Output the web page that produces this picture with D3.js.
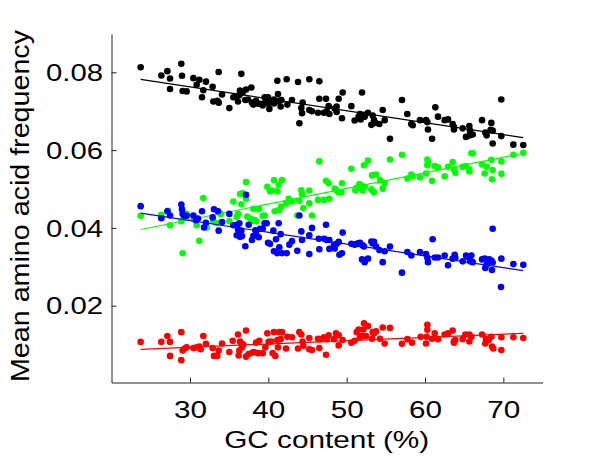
<!DOCTYPE html>
<html>
<head>
<meta charset="utf-8">
<script src="https://cdn.jsdelivr.net/npm/d3@7"></script>
<style>
  body { margin: 0; background: #fff; }
  text { font-family: "Liberation Sans", Arial, sans-serif; fill: #000; }
</style>
</head>
<body>
<div id="chart"></div>
<script>
// GC content (%) and mean frequency, one pair per genome
const blackPts = [
  [23.70,0.0813],[26.34,0.0792],[27.11,0.0803],[27.45,0.0784],[27.45,0.0757],[28.89,0.0822],[28.98,0.0791],
  [29.06,0.0752],[29.57,0.0751],[30.43,0.0785],[30.85,0.0768],[31.19,0.0781],[31.53,0.0736],[31.70,0.0754],
  [32.04,0.0776],[32.89,0.0763],[32.98,0.0725],[33.49,0.0727],[33.66,0.0801],[33.66,0.0722],[34.09,0.0743],
  [35.02,0.0708],[35.53,0.0736],[35.96,0.0739],[36.13,0.0725],[36.30,0.0741],[36.55,0.0796],[36.38,0.0753],
  [36.72,0.0748],[37.15,0.0756],[37.06,0.0729],[37.40,0.0730],[37.83,0.0761],[37.91,0.0722],[38.08,0.0717],
  [38.42,0.0727],[38.68,0.0719],[39.02,0.0719],[39.28,0.0715],[39.53,0.0736],[39.70,0.0727],[39.96,0.0736],
  [39.96,0.0720],[40.13,0.0706],[40.47,0.0725],[40.72,0.0730],[40.72,0.0720],[40.98,0.0725],[41.15,0.0778],
  [41.23,0.0744],[41.40,0.0727],[41.66,0.0729],[41.57,0.0712],[42.34,0.0782],[42.43,0.0717],[43.02,0.0729],
  [43.79,0.0775],[43.96,0.0669],[44.21,0.0708],[44.30,0.0695],[44.38,0.0722],[45.23,0.0782],[45.23,0.0703],
  [45.57,0.0700],[46.34,0.0696],[46.51,0.0777],[46.51,0.0732],[47.11,0.0696],[47.36,0.0732],[47.45,0.0700],
  [47.70,0.0713],[47.79,0.0693],[48.47,0.0707],[48.72,0.0712],[48.72,0.0698],[48.98,0.0732],[49.49,0.0748],
  [49.40,0.0682],[50.60,0.0713],[51.02,0.0676],[51.53,0.0686],[51.70,0.0693],[51.79,0.0679],[51.96,0.0748],
  [52.13,0.0691],[52.30,0.0686],[52.72,0.0696],[53.15,0.0665],[53.32,0.0689],[53.49,0.0677],[53.66,0.0670],
  [54.17,0.0667],[54.60,0.0703],[54.85,0.0677],[55.53,0.0629],[57.06,0.0729],[57.74,0.0693],[58.25,0.0667],
  [58.43,0.0664],[59.36,0.0677],[60.13,0.0677],[60.30,0.0672],[60.38,0.0653],[60.90,0.0629],[61.32,0.0710],
  [61.66,0.0686],[62.51,0.0677],[62.94,0.0679],[63.53,0.0667],[63.70,0.0659],[63.70,0.0653],[64.81,0.0656],
  [65.23,0.0634],[65.66,0.0662],[65.74,0.0650],[65.74,0.0638],[66.09,0.0640],[67.28,0.0677],[67.70,0.0645],
  [67.87,0.0638],[68.47,0.0670],[68.38,0.0652],[68.64,0.0650],[68.64,0.0617],[69.74,0.0730],[69.74,0.0636],
  [71.28,0.0614],[72.55,0.0613]
];
const greenPts = [
  [23.70,0.0431],[26.34,0.0434],[27.19,0.0444],[27.45,0.0407],[28.89,0.0417],[29.06,0.0335],[29.57,0.0436],
  [30.51,0.0422],[30.85,0.0407],[31.19,0.0367],[31.70,0.0477],[32.13,0.0401],[32.98,0.0417],[33.40,0.0412],
  [33.91,0.0436],[35.02,0.0417],[35.53,0.0468],[35.96,0.0429],[36.13,0.0436],[36.38,0.0487],[36.72,0.0489],
  [36.55,0.0461],[37.15,0.0518],[37.15,0.0475],[37.32,0.0429],[37.66,0.0425],[37.92,0.0417],[38.09,0.0449],
  [38.26,0.0420],[38.43,0.0417],[38.60,0.0448],[38.85,0.0449],[39.28,0.0431],[39.53,0.0432],[39.87,0.0506],
  [40.21,0.0494],[40.47,0.0496],[40.72,0.0523],[40.81,0.0443],[41.15,0.0494],[41.32,0.0511],[41.40,0.0446],
  [41.74,0.0523],[41.66,0.0455],[42.26,0.0463],[42.60,0.0475],[43.02,0.0468],[43.70,0.0432],[43.96,0.0470],
  [44.21,0.0497],[44.30,0.0487],[44.47,0.0451],[45.23,0.0496],[45.23,0.0463],[45.57,0.0432],[46.51,0.0571],
  [46.34,0.0472],[47.11,0.0472],[47.36,0.0521],[47.70,0.0515],[47.79,0.0475],[48.47,0.0501],[48.72,0.0496],
  [48.98,0.0491],[49.40,0.0515],[49.32,0.0492],[50.60,0.0552],[51.11,0.0497],[51.28,0.0503],[51.62,0.0513],
  [51.70,0.0503],[51.87,0.0509],[52.04,0.0497],[52.21,0.0561],[52.30,0.0506],[52.72,0.0573],[53.15,0.0499],
  [53.24,0.0535],[53.32,0.0496],[53.49,0.0492],[53.75,0.0537],[54.26,0.0523],[54.60,0.0501],[54.85,0.0515],
  [55.53,0.0576],[57.06,0.0588],[57.75,0.0527],[58.26,0.0537],[58.43,0.0533],[59.36,0.0530],[60.13,0.0540],
  [60.30,0.0561],[60.30,0.0576],[60.38,0.0568],[60.89,0.0521],[61.24,0.0559],[61.66,0.0556],[62.51,0.0533],
  [62.94,0.0557],[63.53,0.0569],[63.70,0.0550],[63.87,0.0542],[64.81,0.0557],[65.24,0.0559],[65.66,0.0550],
  [65.66,0.0545],[65.92,0.0592],[66.09,0.0592],[67.28,0.0563],[67.62,0.0540],[67.87,0.0557],[68.47,0.0575],
  [68.55,0.0525],[68.64,0.0549],[69.75,0.0539],[69.75,0.0571],[71.28,0.0588],[72.55,0.0593]
];
const bluePts = [
  [23.70,0.0456],[26.34,0.0425],[27.11,0.0443],[27.45,0.0432],[28.89,0.0460],[28.98,0.0448],[29.06,0.0436],
  [29.23,0.0431],[29.57,0.0431],[30.43,0.0432],[30.77,0.0420],[31.02,0.0424],[31.53,0.0443],[31.79,0.0401],
  [32.04,0.0413],[32.89,0.0427],[33.06,0.0448],[33.57,0.0443],[33.66,0.0393],[34.09,0.0415],[35.02,0.0436],
  [35.53,0.0407],[35.96,0.0381],[36.04,0.0408],[36.13,0.0396],[36.38,0.0377],[36.30,0.0412],[36.55,0.0393],
  [36.64,0.0379],[37.15,0.0485],[37.06,0.0353],[37.49,0.0408],[37.91,0.0369],[38.09,0.0379],[38.34,0.0394],
  [38.43,0.0384],[38.77,0.0376],[38.94,0.0398],[39.28,0.0398],[39.53,0.0412],[39.79,0.0412],[39.96,0.0362],
  [40.21,0.0359],[40.64,0.0393],[40.72,0.0340],[40.98,0.0371],[41.15,0.0335],[41.32,0.0412],[41.40,0.0350],
  [41.57,0.0384],[41.74,0.0335],[42.34,0.0335],[42.68,0.0357],[43.02,0.0366],[43.70,0.0341],[43.96,0.0432],
  [44.21,0.0391],[44.30,0.0369],[45.23,0.0333],[45.23,0.0381],[45.57,0.0400],[46.43,0.0372],[46.51,0.0345],
  [47.11,0.0372],[47.45,0.0369],[47.79,0.0369],[47.79,0.0346],[47.36,0.0408],[48.38,0.0355],[48.47,0.0347],
  [48.72,0.0359],[48.98,0.0364],[49.07,0.0331],[49.49,0.0388],[49.40,0.0335],[50.60,0.0359],[51.02,0.0357],
  [51.36,0.0360],[51.53,0.0359],[51.70,0.0362],[51.96,0.0319],[52.04,0.0355],[52.21,0.0352],[52.30,0.0312],
  [52.72,0.0321],[53.15,0.0365],[53.32,0.0360],[53.49,0.0364],[53.75,0.0352],[54.17,0.0343],[54.60,0.0312],
  [54.85,0.0340],[55.53,0.0352],[57.06,0.0285],[57.75,0.0338],[58.26,0.0329],[59.36,0.0338],[60.13,0.0333],
  [60.30,0.0323],[60.38,0.0312],[60.98,0.0371],[61.24,0.0324],[61.66,0.0324],[62.51,0.0329],[62.94,0.0304],
  [63.53,0.0321],[63.79,0.0331],[63.87,0.0323],[64.81,0.0314],[65.24,0.0329],[65.41,0.0326],[65.66,0.0324],
  [65.75,0.0314],[65.92,0.0329],[66.09,0.0312],[67.28,0.0319],[67.62,0.0321],[67.70,0.0297],[67.87,0.0305],
  [68.21,0.0319],[68.47,0.0316],[68.64,0.0398],[68.55,0.0292],[68.64,0.0311],[69.75,0.0321],[69.70,0.0248],
  [71.28,0.0307],[72.55,0.0305]
];
const redPts = [
  [23.70,0.0107],[26.34,0.0107],[27.11,0.0122],[27.45,0.0107],[27.45,0.0071],[28.89,0.0132],[28.89,0.0060],
  [29.06,0.0085],[29.32,0.0090],[29.57,0.0093],[30.43,0.0091],[30.85,0.0093],[31.19,0.0095],[31.70,0.0122],
  [31.36,0.0088],[32.04,0.0102],[32.89,0.0091],[33.06,0.0071],[33.49,0.0071],[33.66,0.0085],[34.09,0.0103],
  [35.02,0.0081],[35.45,0.0110],[36.13,0.0126],[36.21,0.0072],[36.30,0.0085],[36.38,0.0108],[36.55,0.0103],
  [36.64,0.0093],[36.81,0.0100],[37.15,0.0136],[37.15,0.0069],[37.49,0.0076],[37.91,0.0079],[38.17,0.0081],
  [38.43,0.0105],[38.68,0.0078],[38.85,0.0110],[39.28,0.0078],[39.62,0.0093],[39.87,0.0129],[40.04,0.0107],
  [40.38,0.0108],[40.55,0.0078],[40.72,0.0132],[40.89,0.0071],[41.15,0.0112],[41.23,0.0093],[41.40,0.0132],
  [41.57,0.0114],[41.74,0.0132],[42.26,0.0090],[42.43,0.0120],[43.02,0.0119],[43.79,0.0090],[43.96,0.0132],
  [44.21,0.0126],[44.38,0.0108],[44.47,0.0097],[45.23,0.0117],[45.23,0.0088],[45.57,0.0086],[46.34,0.0115],
  [46.51,0.0091],[46.60,0.0114],[47.11,0.0119],[47.45,0.0114],[47.70,0.0124],[47.36,0.0074],[48.38,0.0114],
  [48.64,0.0129],[48.98,0.0124],[48.98,0.0098],[49.49,0.0112],[50.60,0.0105],[51.02,0.0110],[51.28,0.0132],
  [51.53,0.0139],[51.70,0.0119],[51.96,0.0122],[52.13,0.0139],[52.21,0.0155],[52.47,0.0122],[52.72,0.0148],
  [53.24,0.0115],[53.32,0.0132],[53.49,0.0129],[53.75,0.0134],[54.26,0.0115],[54.60,0.0144],[54.85,0.0103],
  [55.53,0.0143],[57.06,0.0102],[57.75,0.0114],[58.34,0.0105],[59.45,0.0120],[60.13,0.0103],[60.21,0.0120],
  [60.30,0.0151],[60.30,0.0138],[60.89,0.0115],[61.24,0.0129],[61.66,0.0114],[62.51,0.0126],[62.94,0.0129],
  [63.53,0.0136],[63.70,0.0108],[63.70,0.0105],[63.87,0.0112],[64.81,0.0114],[65.15,0.0126],[65.66,0.0126],
  [65.66,0.0108],[65.92,0.0120],[67.28,0.0126],[67.70,0.0103],[67.79,0.0114],[68.13,0.0112],[68.47,0.0120],
  [68.55,0.0095],[68.72,0.0090],[69.75,0.0119],[69.75,0.0086],[71.28,0.0119],[72.55,0.0117]
];

// fitted lines, end points
const blackFit = [[23.7, 0.0782], [72.55, 0.0632]];
const greenFit = [[23.7, 0.0396], [72.55, 0.0592]];
const blueFit = [[23.7, 0.0438], [72.55, 0.0290]];
const redFit = [[23.7, 0.0088], [72.55, 0.0129]];

const xTicks = [30, 40, 50, 60, 70];
const yTicks = [0.02, 0.04, 0.06, 0.08];

const width = 600, height = 459;

let svg = d3.select('#chart')
    .append('svg')
    .attr('width', width)
    .attr('height', height);

let x = d3.scaleLinear().domain([20, 75]).range([111.67, 542.5]);
let y = d3.scaleLinear().domain([0.00026, 0.08985]).range([382.5, 34]);

// axes
let xAxis = svg.append('g')
    .attr('transform', 'translate(0,382.5)')
    .call(d3.axisBottom(x).tickValues(xTicks).tickSizeInner(-5).tickSizeOuter(0).tickFormat(d3.format('d')));
xAxis.selectAll('text')
    .attr('y', 35.5)
    .attr('dy', 0)
    .attr('font-size', '23.5px')
    .attr('textLength', 33)
    .attr('lengthAdjust', 'spacingAndGlyphs');

let yAxis = svg.append('g')
    .attr('transform', 'translate(111.5,0)')
    .call(d3.axisLeft(y).tickValues(yTicks).tickSizeInner(-5).tickSizeOuter(0).tickFormat(d3.format('.2f')));
yAxis.selectAll('text')
    .attr('x', -8.5)
    .attr('dy', '0.35em')
    .attr('font-size', '23.5px')
    .attr('textLength', 57)
    .attr('lengthAdjust', 'spacingAndGlyphs');

svg.selectAll('.domain, .tick line').attr('stroke', '#222').attr('stroke-width', 1);
svg.selectAll('.tick text').attr('fill', '#000').style('font-family', '"Liberation Sans", Arial, sans-serif');

// series
const series = [
    { pts: blackPts, fit: blackFit, color: '#000000' },
    { pts: greenPts, fit: greenFit, color: '#00ff00' },
    { pts: bluePts, fit: blueFit, color: '#0000ff' },
    { pts: redPts, fit: redFit, color: '#ff0000' }
];

let line = d3.line().x(d => x(d[0])).y(d => y(d[1]));

series.forEach(s => {
    svg.append('g')
        .selectAll('circle')
        .data(s.pts)
        .join('circle')
        .attr('cx', d => x(d[0]))
        .attr('cy', d => y(d[1]))
        .attr('r', 3.3)
        .attr('fill', s.color);

    svg.append('path')
        .datum(s.fit)
        .attr('d', line)
        .attr('fill', 'none')
        .attr('stroke', s.color)
        .attr('stroke-width', 1.2);
});

// labels
svg.append('text')
    .attr('x', 326.7)
    .attr('y', 448)
    .attr('text-anchor', 'middle')
    .attr('font-size', '24px')
    .attr('textLength', 205)
    .attr('lengthAdjust', 'spacingAndGlyphs')
    .text('GC content (%)');

svg.append('text')
    .attr('transform', 'translate(28.5,206) rotate(-90)')
    .attr('text-anchor', 'middle')
    .attr('font-size', '25.5px')
    .attr('textLength', 352)
    .attr('lengthAdjust', 'spacingAndGlyphs')
    .text('Mean amino acid frequency');
</script>
</body>
</html>
